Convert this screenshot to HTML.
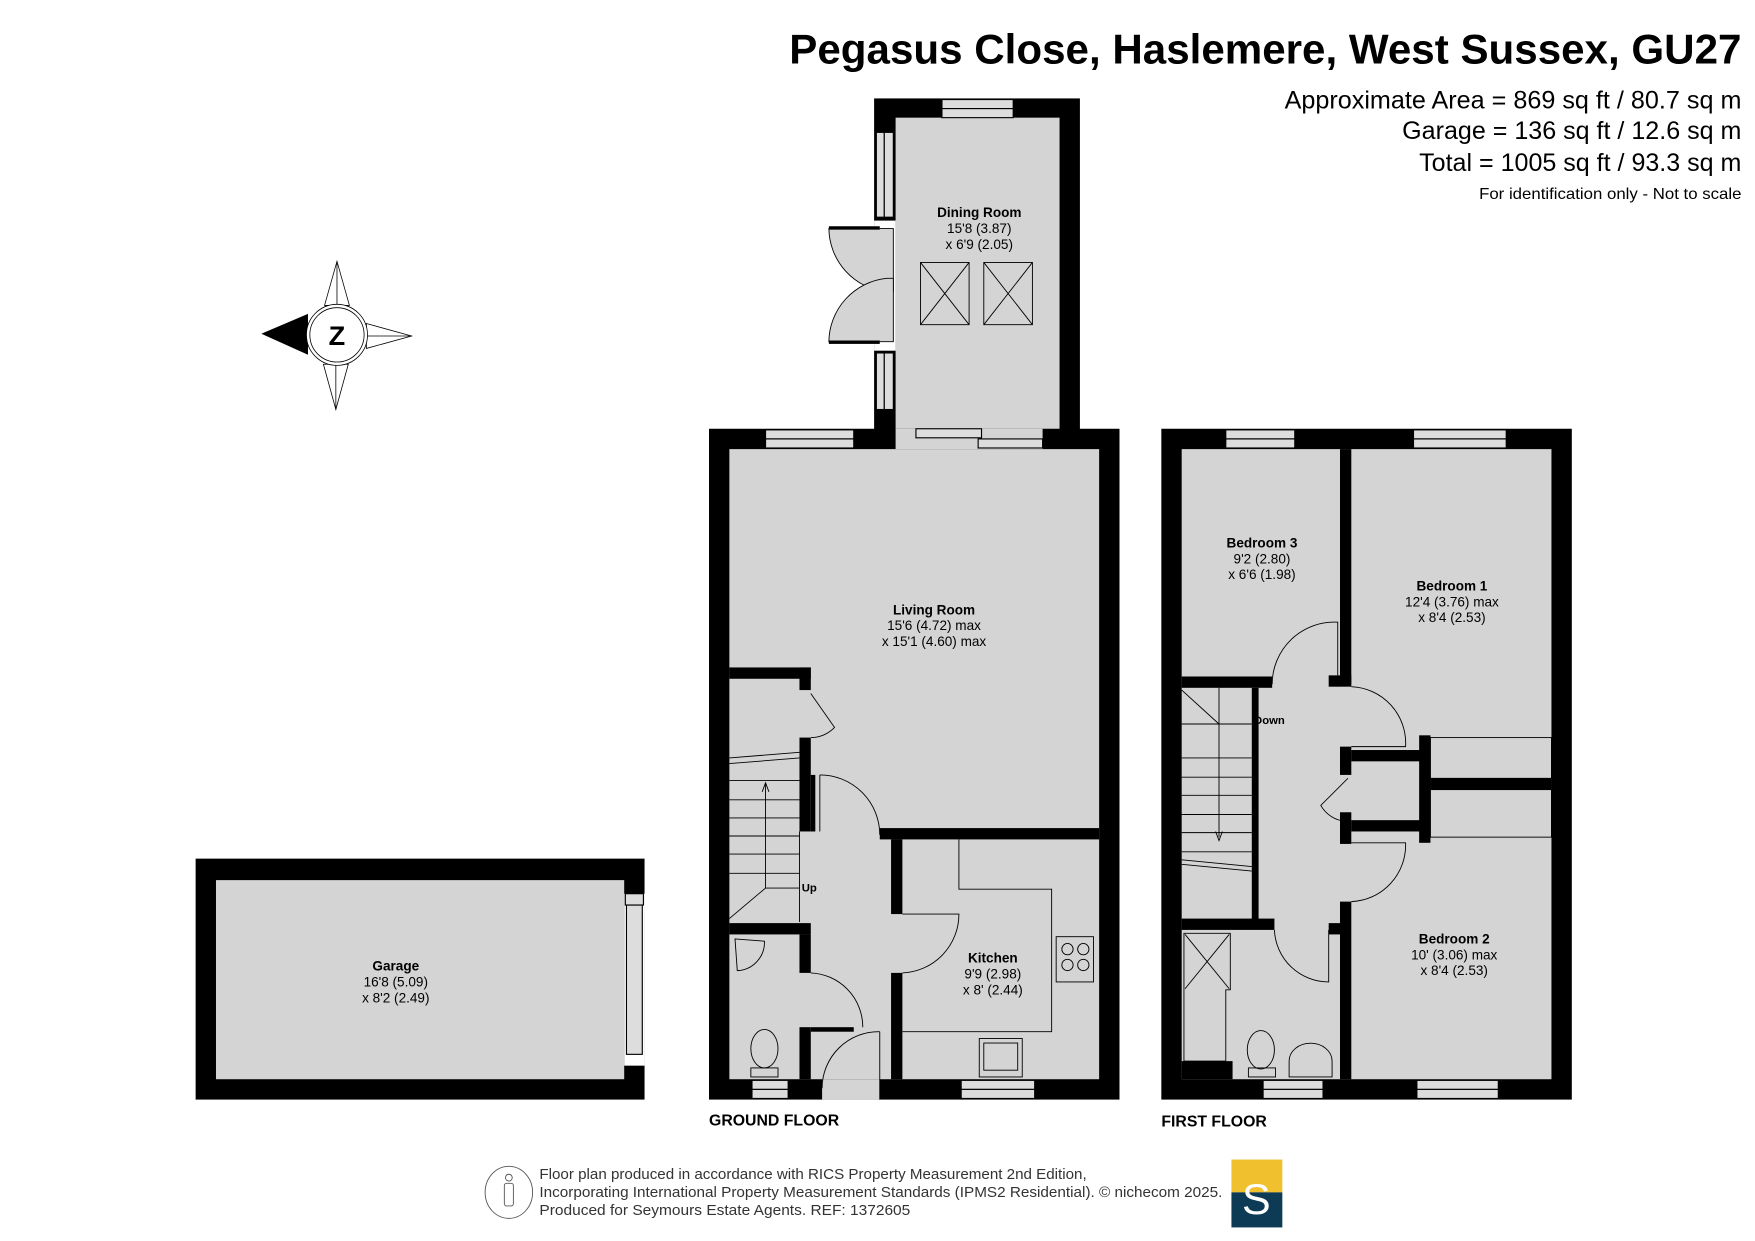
<!DOCTYPE html>
<html><head><meta charset="utf-8"><style>
html,body{margin:0;padding:0;background:#fff;}
svg{display:block;}
text{font-family:"Liberation Sans Narrow","Liberation Sans",sans-serif;}
.b{font-weight:bold;}
</style></head><body>
<svg width="1755" height="1241" viewBox="0 0 1552 1097" preserveAspectRatio="none" xmlns="http://www.w3.org/2000/svg">
<rect width="1552" height="1097" fill="#fff"/>
<!-- Title -->
<text x="1540" y="56" text-anchor="end" class="b" font-size="37" textLength="842" lengthAdjust="spacingAndGlyphs">Pegasus Close, Haslemere, West Sussex, GU27</text>
<text x="1540" y="96" text-anchor="end" font-size="22" textLength="404" lengthAdjust="spacingAndGlyphs">Approximate Area = 869 sq ft / 80.7 sq m</text>
<text x="1540" y="123" text-anchor="end" font-size="22" textLength="300" lengthAdjust="spacingAndGlyphs">Garage = 136 sq ft / 12.6 sq m</text>
<text x="1540" y="151" text-anchor="end" font-size="22" textLength="285" lengthAdjust="spacingAndGlyphs">Total = 1005 sq ft / 93.3 sq m</text>
<text x="1540" y="176" text-anchor="end" font-size="14" textLength="232" lengthAdjust="spacingAndGlyphs">For identification only - Not to scale</text>

<!-- Compass -->
<g stroke="#000" stroke-width="0.7" fill="#fff">
<polygon points="298,231 309,270 287,270"/>
<polygon points="297,362 308,322 286,322"/>
<polygon points="364,297 324,286 324,308"/>
<polygon points="232,295 272,278 272,313" fill="#000"/>
<line x1="298" y1="231" x2="298" y2="270"/><line x1="297" y1="362" x2="297" y2="322"/><line x1="364" y1="297" x2="324" y2="297"/>
<circle cx="298" cy="296" r="27"/><circle cx="298" cy="296" r="24"/>
</g>
<text x="298" y="305" text-anchor="middle" font-size="24" class="b" font-family="Liberation Sans">Z</text>

<!-- GARAGE -->
<rect x="173" y="759" width="397" height="213" fill="#000"/>
<rect x="191" y="778" width="361" height="176" fill="#d4d4d4"/>
<rect x="552" y="790" width="18" height="152" fill="#fff"/>
<rect x="554" y="800" width="14" height="132" fill="#ddd" stroke="#000" stroke-width="1"/>
<text x="350" y="858" text-anchor="middle" class="b" font-size="12">Garage</text>
<text x="350" y="872" text-anchor="middle" font-size="12">16'8 (5.09)</text>
<text x="350" y="886" text-anchor="middle" font-size="12">x 8'2 (2.49)</text>

<!-- GROUND FLOOR -->
<rect x="773" y="87" width="182" height="300" fill="#000"/>
<rect x="792" y="104" width="145" height="290" fill="#d4d4d4"/>
<rect x="627" y="379" width="363" height="593" fill="#000"/>
<rect x="645" y="397" width="327" height="557" fill="#d4d4d4"/>
<rect x="792" y="379" width="130" height="18" fill="#d4d4d4"/>
<g fill="#ddd" stroke="#000" stroke-width="1">
<rect x="833" y="88" width="63" height="8"/><rect x="833" y="96" width="63" height="8"/>
<rect x="775" y="117" width="7" height="75"/><rect x="782" y="117" width="8" height="75"/>
<rect x="775" y="312" width="7" height="50"/><rect x="782" y="312" width="8" height="50"/>
<rect x="810" y="379" width="58" height="8"/><rect x="865" y="388" width="57" height="8"/>
<rect x="677" y="380" width="78" height="8"/><rect x="677" y="388" width="78" height="8"/>
<rect x="665" y="955" width="32" height="8"/><rect x="665" y="963" width="32" height="8"/>
<rect x="850" y="955" width="65" height="8"/><rect x="850" y="963" width="65" height="8"/>
<rect x="553" y="790" width="16" height="10"/>
</g>
<!-- dining doors -->
<rect x="773" y="195" width="19" height="115" fill="#fff"/>
<path d="M790,202 L733,202 A57,57 0 0 0 784,258 L790,258 Z" fill="#d4d4d4" stroke="#000" stroke-width="0.8"/>
<path d="M790,302 L733,302 A57,57 0 0 1 784,246 L790,246 Z" fill="#d4d4d4" stroke="#000" stroke-width="0.8"/>
<rect x="733" y="200" width="45" height="3" fill="#000"/><rect x="733" y="301" width="45" height="3" fill="#000"/>
<g fill="none" stroke="#000" stroke-width="0.8">
<rect x="814" y="232" width="43" height="55"/><path d="M814,232 L857,287 M857,232 L814,287"/>
<rect x="870" y="232" width="43" height="55"/><path d="M870,232 L913,287 M913,232 L870,287"/>
</g>
<text x="866" y="192" text-anchor="middle" class="b" font-size="12">Dining Room</text>
<text x="866" y="206" text-anchor="middle" font-size="12">15'8 (3.87)</text>
<text x="866" y="220" text-anchor="middle" font-size="12">x 6'9 (2.05)</text>

<g fill="#000">
<rect x="645" y="590" width="72" height="10"/>
<rect x="707" y="590" width="10" height="20"/>
<rect x="707" y="652" width="10" height="83"/>
<rect x="717" y="685" width="4" height="50"/>
<rect x="778" y="732" width="194" height="10"/>
<rect x="788" y="742" width="10" height="66"/>
<rect x="788" y="860" width="10" height="94"/>
<rect x="645" y="816" width="72" height="10"/>
<rect x="707" y="826" width="10" height="34"/>
<rect x="707" y="908" width="10" height="46"/>
<rect x="717" y="908" width="38" height="4"/>
</g>
<rect x="727" y="954" width="51" height="18" fill="#d4d4d4"/>
<g fill="none" stroke="#000" stroke-width="0.8">
<path d="M717,613 L738,643 A30,30 0 0 1 717,652"/>
<path d="M725,685 A53,53 0 0 1 778,738"/><line x1="725" y1="685" x2="725" y2="735"/>
<path d="M798,860 A52,52 0 0 0 848,808 L798,808"/>
<path d="M717,860 A48,48 0 0 1 763,908"/>
<path d="M778,912 A50,50 0 0 0 727,962"/><line x1="778" y1="912" x2="778" y2="972"/>
<path d="M645,670 L707,665 M645,675 L707,670"/>
<path d="M645,690 L707,690 M645,707 L707,707 M645,723 L707,723 M645,739 L707,739 M645,755 L707,755 M645,772 L707,772 M677,785 L707,785"/>
<path d="M677,785 L677,692 M645,812 L677,785 M707,735 L707,815"/>
<path d="M674,700 L677,692 L680,700"/>
<path d="M848,742 L848,786 L930,786 L930,912 L798,912"/>
<rect x="934" y="828" width="33" height="40"/>
<circle cx="944" cy="839" r="5"/><circle cx="958" cy="839" r="5"/><circle cx="944" cy="853" r="5"/><circle cx="958" cy="853" r="5"/>
<rect x="866" y="918" width="38" height="34"/><rect x="870" y="922" width="30" height="24"/>
<path d="M650,830 L676,832 A25,25 0 0 1 652,858 Z"/>
<ellipse cx="676" cy="927" rx="12" ry="17"/><rect x="664" y="944" width="24" height="8"/>
</g>
<text x="826" y="543" text-anchor="middle" class="b" font-size="12">Living Room</text>
<text x="826" y="557" text-anchor="middle" font-size="12">15'6 (4.72) max</text>
<text x="826" y="571" text-anchor="middle" font-size="12">x 15'1 (4.60) max</text>
<text x="878" y="851" text-anchor="middle" class="b" font-size="12">Kitchen</text>
<text x="878" y="865" text-anchor="middle" font-size="12">9'9 (2.98)</text>
<text x="878" y="879" text-anchor="middle" font-size="12">x 8' (2.44)</text>
<text x="709" y="788" class="b" font-size="10">Up</text>
<text x="627" y="995" class="b" font-size="14" font-family="Liberation Sans">GROUND FLOOR</text>

<!-- FIRST FLOOR -->
<rect x="1027" y="379" width="363" height="593" fill="#000"/>
<rect x="1045" y="397" width="327" height="557" fill="#d4d4d4"/>
<g fill="#ddd" stroke="#000" stroke-width="1">
<rect x="1084" y="380" width="61" height="8"/><rect x="1084" y="388" width="61" height="8"/>
<rect x="1250" y="380" width="82" height="8"/><rect x="1250" y="388" width="82" height="8"/>
<rect x="1117" y="955" width="53" height="8"/><rect x="1117" y="963" width="53" height="8"/>
<rect x="1253" y="955" width="72" height="8"/><rect x="1253" y="963" width="72" height="8"/>
</g>
<g fill="#000">
<rect x="1185" y="397" width="10" height="208"/>
<rect x="1175" y="597" width="20" height="10"/>
<rect x="1045" y="598" width="80" height="10"/>
<rect x="1185" y="660" width="10" height="25"/>
<rect x="1195" y="663" width="67" height="10"/>
<rect x="1255" y="650" width="10" height="95"/>
<rect x="1265" y="688" width="107" height="10"/>
<rect x="1195" y="725" width="67" height="10"/>
<rect x="1185" y="718" width="10" height="28"/>
<rect x="1185" y="797" width="10" height="157"/>
<rect x="1175" y="816" width="10" height="10"/>
<rect x="1107" y="608" width="6" height="205"/>
<rect x="1045" y="812" width="82" height="10"/>
<rect x="1045" y="938" width="45" height="16"/>
</g>
<g fill="none" stroke="#000" stroke-width="0.8">
<rect x="1265" y="652" width="107" height="36"/><rect x="1265" y="698" width="107" height="42"/>
<path d="M1183,607 L1183,550 A55,55 0 0 0 1125,605"/>
<path d="M1195,607 A50,50 0 0 1 1243,660 L1195,660"/>
<path d="M1195,745 L1243,745 A50,50 0 0 1 1195,797"/>
<path d="M1192,688 L1168,712 A28,28 0 0 0 1190,726"/>
<path d="M1127,822 A48,48 0 0 0 1175,868 L1175,822"/>
<path d="M1078,608 L1078,740 M1045,610 L1078,640 L1107,640 M1045,760 L1107,766 M1045,764 L1107,770"/>
<path d="M1045,670 L1107,670 M1045,687 L1107,687 M1045,703 L1107,703 M1045,720 L1107,720 M1045,736 L1107,736 M1045,753 L1107,753 M1045,640 L1078,640"/>
<path d="M1075,735 L1078,743 L1081,735"/>
<path d="M1047,825 L1088,825 L1088,875 L1084,875 L1084,938 L1047,938 Z M1048,826 L1087,874 M1087,826 L1048,874"/>
<ellipse cx="1115" cy="928" rx="12" ry="17"/><rect x="1104" y="944" width="24" height="8"/>
<path d="M1140,952 L1140,938 A18,15 0 0 1 1178,938 L1178,952 Z"/>
</g>
<text x="1116" y="484" text-anchor="middle" class="b" font-size="12">Bedroom 3</text>
<text x="1116" y="498" text-anchor="middle" font-size="12">9'2 (2.80)</text>
<text x="1116" y="512" text-anchor="middle" font-size="12">x 6'6 (1.98)</text>
<text x="1284" y="522" text-anchor="middle" class="b" font-size="12">Bedroom 1</text>
<text x="1284" y="536" text-anchor="middle" font-size="12">12'4 (3.76) max</text>
<text x="1284" y="550" text-anchor="middle" font-size="12">x 8'4 (2.53)</text>
<text x="1286" y="834" text-anchor="middle" class="b" font-size="12">Bedroom 2</text>
<text x="1286" y="848" text-anchor="middle" font-size="12">10' (3.06) max</text>
<text x="1286" y="862" text-anchor="middle" font-size="12">x 8'4 (2.53)</text>
<text x="1109" y="640" class="b" font-size="10">Down</text>
<text x="1027" y="996" class="b" font-size="14" font-family="Liberation Sans">FIRST FLOOR</text>

<!-- Footer -->
<g fill="none" stroke="#555" stroke-width="0.8">
<ellipse cx="450" cy="1054" rx="21" ry="23"/>
<circle cx="450" cy="1041" r="3"/><rect x="446" y="1046" width="8" height="20" rx="2"/>
</g>
<g font-size="13" fill="#333">
<text x="477" y="1042" textLength="484" lengthAdjust="spacingAndGlyphs">Floor plan produced in accordance with RICS Property Measurement 2nd Edition,</text>
<text x="477" y="1058" textLength="604" lengthAdjust="spacingAndGlyphs">Incorporating International Property Measurement Standards (IPMS2 Residential).   © nichecom 2025.</text>
<text x="477" y="1074" textLength="328" lengthAdjust="spacingAndGlyphs">Produced for Seymours Estate Agents.   REF: 1372605</text>
</g>
<rect x="1089" y="1025" width="45" height="29" fill="#f0c02e"/>
<rect x="1089" y="1054" width="45" height="31" fill="#0d3b55"/>
<text x="1111" y="1073" text-anchor="middle" font-size="38" fill="#fff" font-family="Liberation Serif">S</text>
</svg>
</body></html>
